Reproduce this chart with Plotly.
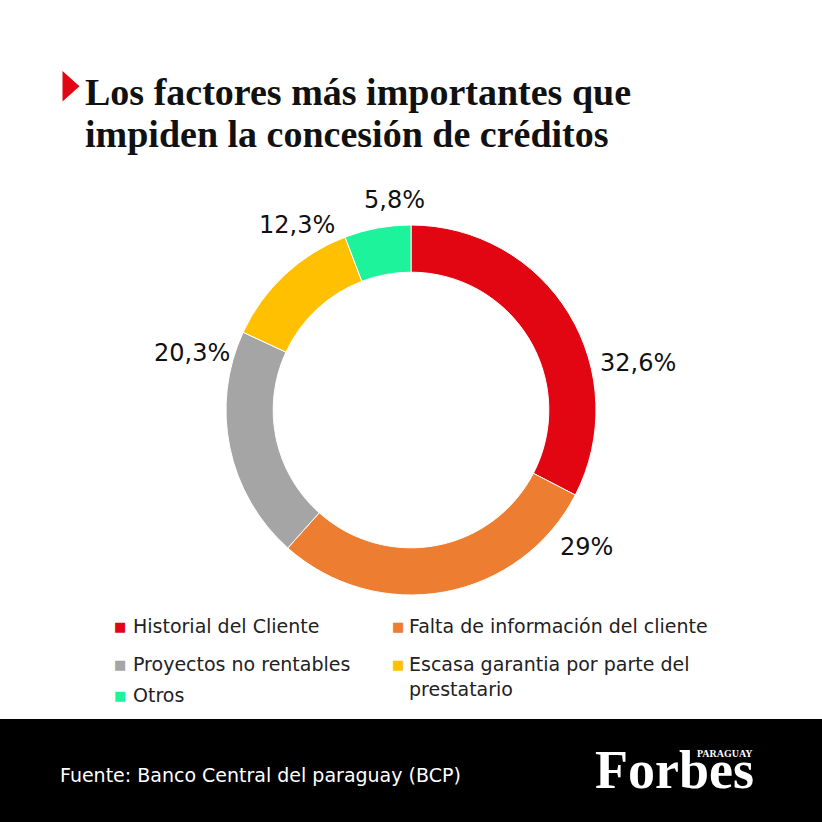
import plotly.graph_objects as go

# ---- data ----
categories = [
    "Historial del Cliente",
    "Falta de información del cliente",
    "Proyectos no rentables",
    "Escasa garantia por parte del prestatario",
    "Otros",
]
values = [32.6, 29.0, 20.3, 12.3, 5.8]
colors = ["#E20613", "#EC7D31", "#A5A5A5", "#FEC000", "#1DF39A"]
legend_labels = [
    "Historial del Cliente",
    "Falta de información del cliente",
    "Proyectos no rentables",
    "Escasa garantia por parte del<br>prestatario",
    "Otros",
]
title_lines = ["Los factores más importantes que", "impiden la concesión de créditos"]
source_text = "Fuente: Banco Central del paraguay (BCP)"

# ---- layout helpers (pixel -> paper) ----
W = H = 822
def px(x):
    return x / W
def py(y):
    return 1 - y / H

def fmt(v):
    s = f"{v:.1f}".rstrip("0").rstrip(".")
    return s.replace(".", ",") + "%"

# label positions (layout, px) for each slice's percentage label
label_xy = [(638, 363), (586, 547), (191.5, 353), (297, 225), (394, 200.5)]
# legend entry positions (swatch centre x, text left x, first-line centre y)
legend_xy = [(120.5, 131, 626), (397.5, 407, 626), (120.5, 131, 664), (397.5, 407, 664), (120.5, 131, 695)]

fig = go.Figure()
fig.add_trace(go.Pie(
    labels=categories,
    values=values,
    sort=False,
    direction="clockwise",
    rotation=0,
    hole=0.745,
    marker=dict(colors=colors, line=dict(color="white", width=1)),
    textinfo="none",
    hoverinfo="label+percent",
    showlegend=False,
    domain=dict(x=[px(226), px(596)], y=[py(595), py(225)]),
))

ann = []
SANS = "DejaVu Sans"
SERIF = "Liberation Serif"

# percentage labels
for v, (x, y) in zip(values, label_xy):
    ann.append(dict(x=px(x), y=py(y), xref="paper", yref="paper", text=fmt(v),
                    showarrow=False, xanchor="center", yanchor="middle",
                    font=dict(family=SANS, size=24, color="#111111")))

# legend
for lab, col, (sx, tx, y) in zip(legend_labels, colors, legend_xy):
    nlines = lab.count("<br>") + 1
    yc = y + (nlines - 1) * 24.7 / 2
    ann.append(dict(x=px(sx), y=py(y), xref="paper", yref="paper", text="■",
                    showarrow=False, xanchor="center", yanchor="middle",
                    font=dict(family=SANS, size=13, color=col)))
    ann.append(dict(x=px(tx), y=py(yc), xref="paper", yref="paper", text=lab,
                    showarrow=False, xanchor="left", yanchor="middle", align="left",
                    font=dict(family=SANS, size=19, color="#222222")))

# title
for line, y in zip(title_lines, [92, 134]):
    ann.append(dict(x=px(83), y=py(y), xref="paper", yref="paper", text=f"<b>{line}</b>",
                    showarrow=False, xanchor="left", yanchor="middle",
                    font=dict(family=SERIF, size=38, color="#111111")))

# footer
ann.append(dict(x=px(58), y=py(775), xref="paper", yref="paper", text=source_text,
                showarrow=False, xanchor="left", yanchor="middle",
                font=dict(family=SANS, size=19, color="#ffffff")))
ann.append(dict(x=px(674), y=py(770), xref="paper", yref="paper", text="<b>Forbes</b>",
                showarrow=False, xanchor="center", yanchor="middle",
                font=dict(family=SERIF, size=54, color="#ffffff")))
ann.append(dict(x=px(725), y=py(753), xref="paper", yref="paper", text="<b>PARAGUAY</b>",
                showarrow=False, xanchor="center", yanchor="middle",
                font=dict(family=SERIF, size=10, color="#ffffff")))

shapes = [
    # footer band
    dict(type="rect", xref="paper", yref="paper", x0=0, x1=1, y0=0, y1=py(719),
         fillcolor="#000000", line=dict(width=0), layer="below"),
    # red title marker
    dict(type="path", xref="paper", yref="paper",
         path=f"M {px(62.5)} {py(71)} L {px(62.5)} {py(101.5)} L {px(79.5)} {py(86.2)} Z",
         fillcolor="#E20613", line=dict(width=0)),
]

fig.update_layout(
    width=W, height=H,
    margin=dict(l=0, r=0, t=0, b=0),
    paper_bgcolor="white", plot_bgcolor="white",
    annotations=ann, shapes=shapes,
    showlegend=False,
)

fig.write_html("out.html", config={"displayModeBar": False},
               post_script="document.body.style.margin='0';")
